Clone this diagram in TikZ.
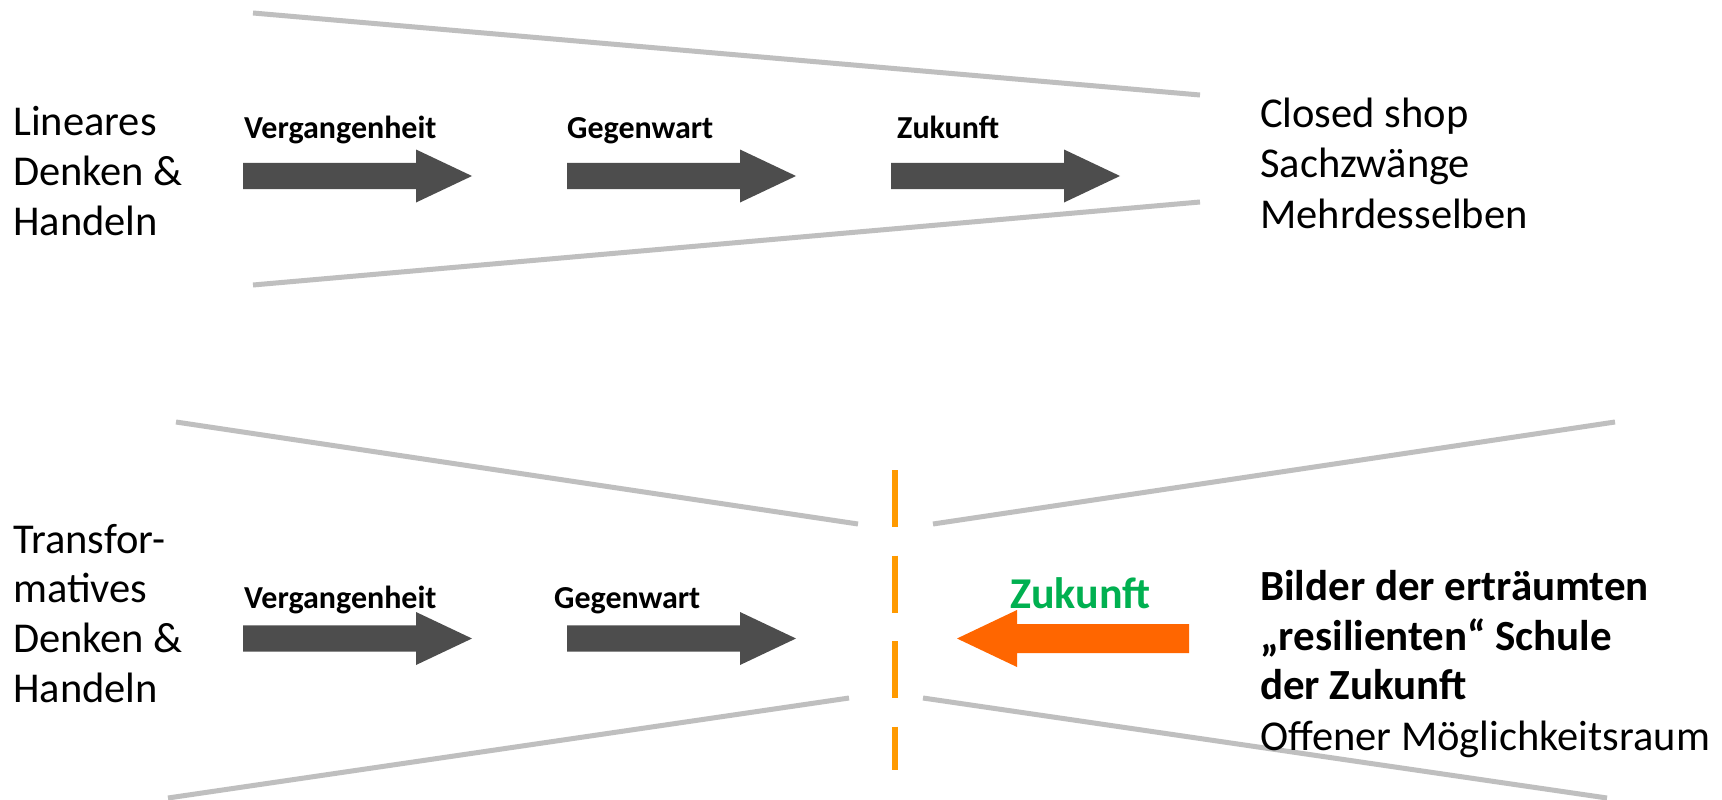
\documentclass[tikz,border=0pt]{standalone}
\usepackage{fontspec}
\setmainfont{Carlito}
\definecolor{arrowgray}{HTML}{4D4D4D}
\definecolor{linegray}{HTML}{BFBFBF}
\definecolor{dashorange}{HTML}{FF9A00}
\definecolor{arroworange}{HTML}{FF6600}
\definecolor{zgreen}{HTML}{00B050}
\tikzset{
  big/.style={anchor=base west, inner sep=0pt, font=\fontsize{42.5}{50}\selectfont},
  bigbold/.style={big, font=\fontsize{43}{50}\selectfont\bfseries},
  lbl/.style={anchor=base west, inner sep=0pt, font=\fontsize{32}{38}\selectfont\bfseries},
  funnel/.style={draw=linegray, line width=5pt},
  rarr/.pic={\fill[arrowgray] (0,-13.2) -- (173,-13.2) -- (173,-26.5) -- (229,0) -- (173,26.5) -- (173,13.2) -- (0,13.2) -- cycle;},
  larr/.pic={\fill[arroworange] (0,0) -- (60,-28.5) -- (60,-14.5) -- (232,-14.5) -- (232,14.5) -- (60,14.5) -- (60,28.5) -- cycle;}
}
\begin{document}
\begin{tikzpicture}[x=1pt,y=-1pt]
\useasboundingbox[fill=white] (0,0) rectangle (1722,800);
% ---------- top section ----------
\coordinate (t1a) at (253,13);  \coordinate (t1b) at (1200,95);
\coordinate (t2a) at (253,285); \coordinate (t2b) at (1200,202);
\draw[funnel] (t1a) -- (t1b);
\draw[funnel] (t2a) -- (t2b);
\pic at (243,176) {rarr};
\pic at (567,176) {rarr};
\pic at (891,176) {rarr};
\node[lbl] (tv) at (244,138) {Vergangenheit};
\node[lbl] (tg) at (567,138) {Gegenwart};
\node[lbl] (tz) at (897,138) {Zukunft};
\node[big] (tl1) at (13,135) {Lineares};
\node[big] (tl2) at (13,185) {Denken \&};
\node[big] (tl3) at (13,235) {Handeln};
\node[big] (tr1) at (1260,127) {Closed shop};
\node[big] (tr2) at (1260,177) {Sachzwänge};
\node[big] (tr3) at (1260,228) {Mehrdesselben};
% ---------- bottom section ----------
\coordinate (b1a) at (176,422); \coordinate (b1b) at (858,524);
\coordinate (b2a) at (933,524); \coordinate (b2b) at (1615,422);
\coordinate (b3a) at (168,798); \coordinate (b3b) at (849,698);
\coordinate (b4a) at (923,698); \coordinate (b4b) at (1607,798);
\draw[funnel] (b1a) -- (b1b);
\draw[funnel] (b2a) -- (b2b);
\draw[funnel] (b3a) -- (b3b);
\draw[funnel] (b4a) -- (b4b);
\coordinate (da) at (895,470); \coordinate (db) at (895,770);
\draw[dashorange, line width=6.5pt, dash pattern=on 57pt off 28.5pt] (da) -- (db);
\pic at (243,638.5) {rarr};
\pic at (567,638.5) {rarr};
\pic at (957,638.5) {larr};
\node[lbl] (bv) at (244,608) {Vergangenheit};
\node[lbl] (bg) at (554,608) {Gegenwart};
\node[anchor=base west, inner sep=0pt, font=\fontsize{44}{50}\selectfont\bfseries, text=zgreen] (bz) at (1010,608) {Zukunft};
\node[big] (bl1) at (13,553) {Transfor-};
\node[big] (bl2) at (13,602) {matives};
\node[big] (bl3) at (13,652) {Denken \&};
\node[big] (bl4) at (13,702) {Handeln};
\node[bigbold] (br1) at (1260,600) {Bilder der erträumten};
\node[bigbold] (br2) at (1260,650) {„resilienten“ Schule};
\node[bigbold] (br3) at (1260,699) {der Zukunft};
\node[big] (br4) at (1260,750) {Offener Möglichkeitsraum};
\end{tikzpicture}
\end{document}
